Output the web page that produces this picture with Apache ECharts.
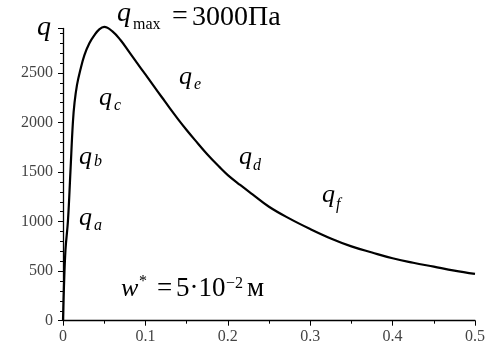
<!DOCTYPE html>
<html><head><meta charset="utf-8">
<script src="https://cdn.jsdelivr.net/npm/echarts@6/dist/echarts.min.js"></script>
<style>html,body{margin:0;padding:0;background:#fff}#c{width:491px;height:347px}</style>
</head><body><div id="c"></div>
<script>
// ---- data ----
var xValues = [0, 0.001, 0.003, 0.006, 0.009, 0.012, 0.014, 0.017, 0.021, 0.026, 0.032, 0.038, 0.044, 0.050, 0.060, 0.070, 0.080, 0.090, 0.100, 0.110, 0.120, 0.130, 0.140, 0.150, 0.160, 0.175, 0.190, 0.200, 0.215, 0.230, 0.250, 0.275, 0.300, 0.325, 0.350, 0.375, 0.400, 0.425, 0.450, 0.475, 0.500];
var qValues = [0, 300, 714, 1006, 1500, 2000, 2200, 2380, 2530, 2680, 2800, 2880, 2940, 2965, 2920, 2830, 2715, 2600, 2485, 2370, 2255, 2140, 2030, 1925, 1825, 1680, 1550, 1470, 1370, 1275, 1150, 1030, 925, 830, 750, 688, 630, 585, 545, 505, 472];
var xTickLabels = ['0', '0.1', '0.2', '0.3', '0.4', '0.5'];
var yTickLabels = ['0', '500', '1000', '1500', '2000', '2500'];

var serif = 'Liberation Serif';
function txt(x, baseline, text, fs, italic) {
  return {
    type: 'text', x: x, y: baseline - 0.305 * fs, silent: true,
    style: { text: text, fontSize: fs, fontFamily: serif, fontStyle: italic ? 'italic' : 'normal',
      fill: '#000', align: 'left', verticalAlign: 'middle' }
  };
}
var labels = [
  txt(37, 36, 'q', 28, true),
  txt(117, 22, 'q', 28, true), txt(133, 30, 'max', 16, false),
  txt(172, 25, '=', 28, false), txt(192, 26.5, '3000Па', 28, false),
  txt(179, 85, 'q', 26, true), txt(194, 90, 'e', 16, true),
  txt(99, 106, 'q', 26, true), txt(114, 111, 'c', 16, true),
  txt(79, 165, 'q', 26, true), txt(94, 167, 'b', 16, true),
  txt(239, 165, 'q', 26, true), txt(253, 171, 'd', 16, true),
  txt(322, 203, 'q', 26, true), txt(336, 210, 'f', 16, true),
  txt(79, 226, 'q', 26, true), txt(94, 231, 'a', 16, true),
  txt(121, 297, 'w', 26, true), txt(139, 287, '*', 16, false),
  txt(157, 297, '=', 27, false), txt(176, 297, '5·10', 27, false),
  txt(226, 289, '−2', 16, false), txt(247, 297, 'м', 27, false)
];

var chart = echarts.init(document.getElementById('c'));
chart.setOption({
  backgroundColor: '#fff',
  animation: false,
  grid: { left: 63, right: 16, top: 28.4, bottom: 26.3 },
  xAxis: {
    type: 'value', min: 0, max: 0.5, interval: 0.1,
    axisLine: { lineStyle: { color: '#000', width: 1.3 } },
    axisTick: { show: true, inside: false, length: 5, lineStyle: { color: '#000' } },
    minorTick: { show: true, splitNumber: 2, length: 3, lineStyle: { color: '#000' } },
    splitLine: { show: false },
    axisLabel: { margin: 8, color: '#444', fontFamily: serif, fontSize: 16,
      formatter: function (v) { var i = Math.round(v / 0.1); return Math.abs(v - i * 0.1) < 1e-9 ? xTickLabels[i] : ''; } }
  },
  yAxis: {
    type: 'value', min: 0, max: 2950, interval: 500,
    axisLine: { lineStyle: { color: '#000', width: 1.3 } },
    axisTick: { show: true, inside: false, length: 5, lineStyle: { color: '#000' } },
    minorTick: { show: true, splitNumber: 5, length: 3, lineStyle: { color: '#000' } },
    splitLine: { show: false },
    axisLabel: { margin: 10, color: '#444', fontFamily: serif, fontSize: 16,
      formatter: function (v) { var i = Math.round(v / 500); return (Math.abs(v - i * 500) < 1e-6 && i < yTickLabels.length) ? yTickLabels[i] : ''; } }
  },
  series: [{
    type: 'line', showSymbol: false, smooth: 0.4, clip: false,
    data: xValues.map(function (x, i) { return [x, qValues[i]]; }),
    lineStyle: { color: '#000', width: 2.2 }
  }],
  graphic: labels
});
</script></body></html>
